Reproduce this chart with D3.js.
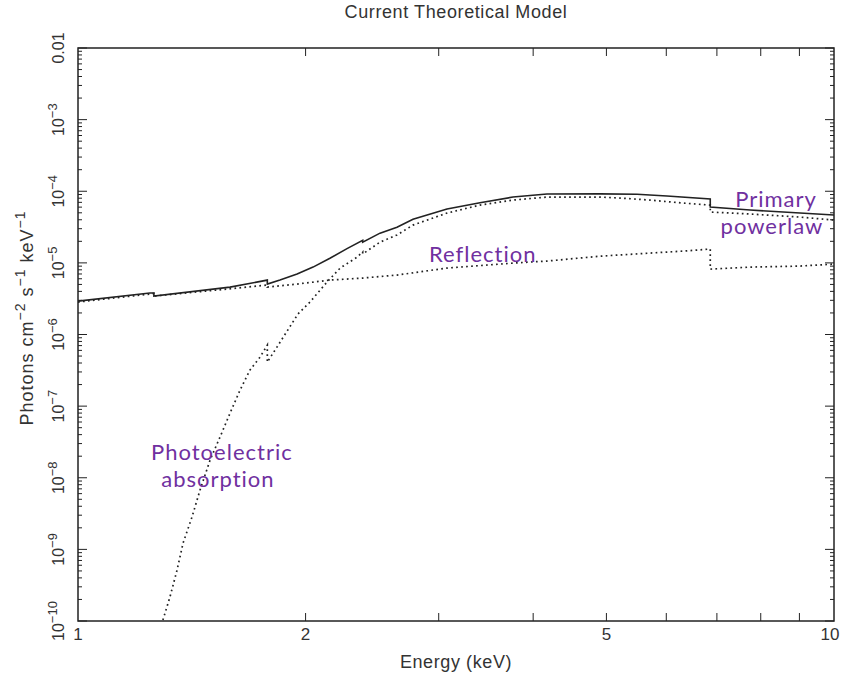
<!DOCTYPE html>
<html>
<head>
<meta charset="utf-8">
<script src="https://cdn.jsdelivr.net/npm/d3@7"></script>
<style>
  body { margin: 0; background: #fff; }
  .pg-text { font-family: "Liberation Sans", "DejaVu Sans", sans-serif; fill: #333; }
  .note { font-family: Lato, "Noto Sans", sans-serif; fill: #7030A0; letter-spacing: 1px; }
</style>
</head>
<body>
<div id="chart"></div>
<script>
// DATA (keV and photons/cm2/s/keV)
// edges are given twice so the line drops vertically
const energyTotal = [1.00, 1.245, 1.26, 1.26, 1.589, 1.78, 1.78, 1.85, 1.949, 2.046, 2.154, 2.269, 2.38, 2.38, 2.509, 2.642, 2.774, 3.077, 3.402, 3.762, 4.172, 4.903, 5.489, 6.013, 6.86, 6.86, 7.743, 9.016, 10.0];
const fluxTotal = [2.92e-6, 3.79e-6, 3.80e-6, 3.44e-6, 4.59e-6, 5.75e-6, 5.06e-6, 5.75e-6, 6.98e-6, 8.73e-6, 1.16e-5, 1.58e-5, 2.06e-5, 1.95e-5, 2.6e-5, 3.14e-5, 4.07e-5, 5.64e-5, 6.9e-5, 8.30e-5, 9.14e-5, 9.2e-5, 9.1e-5, 8.57e-5, 7.78e-5, 6.01e-5, 5.46e-5, 4.96e-5, 4.66e-5];

const energyPrimary = [1.295, 1.323, 1.352, 1.377, 1.415, 1.450, 1.495, 1.541, 1.589, 1.638, 1.688, 1.741, 1.78, 1.78, 1.833, 1.954, 2.027, 2.135, 2.222, 2.339, 2.38, 2.38, 2.509, 2.642, 2.774, 3.077, 3.402, 3.762, 4.172, 4.903, 5.212, 5.710, 6.314, 6.86, 6.86, 7.743, 9.016, 10.0];
const fluxPrimary = [1.03e-10, 2.15e-10, 5.12e-10, 1.22e-9, 2.82e-9, 6.71e-9, 1.76e-8, 3.69e-8, 7.98e-8, 1.67e-7, 3.18e-7, 4.83e-7, 7.11e-7, 4.12e-7, 6.67e-7, 1.93e-6, 2.84e-6, 5.40e-6, 8.46e-6, 1.20e-5, 1.42e-5, 1.33e-5, 1.95e-5, 2.45e-5, 3.37e-5, 4.96e-5, 6.41e-5, 7.53e-5, 8.30e-5, 8.30e-5, 8.04e-5, 7.53e-5, 6.84e-5, 6.41e-5, 5.12e-5, 4.81e-5, 4.36e-5, 3.96e-5];

const energyRefl = [1.00, 1.245, 1.26, 1.26, 1.575, 1.78, 1.78, 1.949, 2.154, 2.382, 2.642, 3.077, 3.762, 4.172, 4.903, 5.710, 6.314, 6.86, 6.86, 7.743, 9.016, 10.0];
const fluxRefl = [2.84e-6, 3.67e-6, 3.75e-6, 3.44e-6, 4.31e-6, 4.90e-6, 4.59e-6, 5.06e-6, 5.75e-6, 6.14e-6, 6.76e-6, 8.46e-6, 9.93e-6, 1.06e-5, 1.24e-5, 1.37e-5, 1.46e-5, 1.56e-5, 8.19e-6, 8.73e-6, 9.02e-6, 9.62e-6];

// TICKS
const xTickValues = [1, 2, 5, 10];
const yTickValues = [1e-10, 1e-9, 1e-8, 1e-7, 1e-6, 1e-5, 1e-4, 1e-3, 1e-2];

// LABELS
const titleText = 'Current Theoretical Model';
const xTitle = 'Energy (keV)';
const notes = [
  { lines: ['Primary', 'powerlaw'], e: 8.38, f: 6.0e-5 },
  { lines: ['Reflection'], e: 3.43, f: 1.03e-5 },
  { lines: ['Photoelectric', 'absorption'], e: 1.55, f: 1.76e-8 }
];

// SIZE
const W = 846, H = 678;
const m = { top: 48, right: 12, bottom: 57, left: 78 };

const svg = d3.select('#chart').append('svg')
  .attr('width', W).attr('height', H);

const x = d3.scaleLog().domain([1, 10]).range([m.left, W - m.right]);
const y = d3.scaleLog().domain([1e-10, 1e-2]).range([H - m.bottom, m.top]);

// minor ticks 2..9 in each decade
let yMinor = [];
for (let d = -10; d < -2; d++) {
  for (let k = 2; k <= 9; k++) yMinor.push(k * Math.pow(10, d));
}
let xMinor = d3.range(2, 10);

const ticks = svg.append('g').attr('stroke', '#222').attr('stroke-width', 1);
const x0 = x.range()[0], x1 = x.range()[1];
const y0 = y.range()[0], y1 = y.range()[1];

// y ticks left and right
yTickValues.forEach(function(v) {
  ticks.append('line').attr('x1', x0).attr('x2', x0 + 9).attr('y1', y(v)).attr('y2', y(v));
  ticks.append('line').attr('x1', x1).attr('x2', x1 - 9).attr('y1', y(v)).attr('y2', y(v));
});
yMinor.forEach(function(v) {
  ticks.append('line').attr('x1', x0).attr('x2', x0 + 4).attr('y1', y(v)).attr('y2', y(v));
  ticks.append('line').attr('x1', x1).attr('x2', x1 - 4).attr('y1', y(v)).attr('y2', y(v));
});
// x ticks bottom and top
xMinor.forEach(function(v) {
  ticks.append('line').attr('x1', x(v)).attr('x2', x(v)).attr('y1', y0).attr('y2', y0 - 8);
  ticks.append('line').attr('x1', x(v)).attr('x2', x(v)).attr('y1', y1).attr('y2', y1 + 8);
});

// frame
svg.append('rect')
  .attr('x', x0).attr('y', y1)
  .attr('width', x1 - x0).attr('height', y0 - y1)
  .attr('fill', 'none').attr('stroke', '#222').attr('stroke-width', 1.5);

// CURVES
const clip = svg.append('clipPath').attr('id', 'plotClip')
  .append('rect').attr('x', x0).attr('y', y1).attr('width', x1 - x0).attr('height', y0 - y1);

const line = d3.line().x(d => x(d[0])).y(d => y(d[1]));
const curves = svg.append('g').attr('clip-path', 'url(#plotClip)');

function drawCurve(es, fs, dotted) {
  curves.append('path')
    .datum(es.map((e, i) => [e, fs[i]]))
    .attr('d', line)
    .attr('fill', 'none')
    .attr('stroke', '#222')
    .attr('stroke-width', dotted ? 1.7 : 1.6)
    .attr('stroke-dasharray', dotted ? '1.7,3.3' : null);
}
drawCurve(energyRefl, fluxRefl, true);
drawCurve(energyPrimary, fluxPrimary, true);
drawCurve(energyTotal, fluxTotal, false);

// TEXT
svg.append('text').attr('class', 'pg-text')
  .attr('x', (x0 + x1) / 2).attr('y', 18)
  .attr('text-anchor', 'middle').attr('font-size', 18)
  .attr('letter-spacing', 0.6)
  .text(titleText);

svg.selectAll('.xlab').data(xTickValues).enter().append('text')
  .attr('class', 'pg-text xlab')
  .attr('x', d => d == 10 ? x(d) - 4 : x(d))
  .attr('y', 640)
  .attr('text-anchor', 'middle').attr('font-size', 17)
  .text(d => d);

svg.append('text').attr('class', 'pg-text')
  .attr('x', (x0 + x1) / 2).attr('y', 668)
  .attr('text-anchor', 'middle').attr('font-size', 18)
  .attr('letter-spacing', 0.6)
  .text(xTitle);

// y tick labels, rotated
yTickValues.forEach(function(v) {
  const t = svg.append('text').attr('class', 'pg-text')
    .attr('font-size', 16).attr('text-anchor', 'middle')
    .attr('transform', 'translate(64,' + y(v) + ') rotate(-90)');
  if (v == 1e-2) {
    t.text('0.01');
  } else {
    t.append('tspan').text('10');
    t.append('tspan').attr('dy', -7).attr('font-size', 13).text('\u2212' + Math.round(-Math.log10(v)));
  }
});

// y title
const yt = svg.append('text').attr('class', 'pg-text')
  .attr('font-size', 18).attr('text-anchor', 'middle')
  .attr('letter-spacing', 1)
  .attr('transform', 'translate(33,318) rotate(-90)');
yt.append('tspan').text('Photons cm');
yt.append('tspan').attr('dy', -8).attr('font-size', 14).text('\u22122');
yt.append('tspan').attr('dy', 8).text('  s');
yt.append('tspan').attr('dy', -8).attr('font-size', 14).text('\u22121');
yt.append('tspan').attr('dy', 8).text('  keV');
yt.append('tspan').attr('dy', -8).attr('font-size', 14).text('\u22121');

// purple notes
notes.forEach(function(n) {
  const t = svg.append('text').attr('class', 'note')
    .attr('font-size', 22).attr('text-anchor', 'middle');
  n.lines.forEach(function(s, i) {
    t.append('tspan').attr('x', x(n.e) - (i ? 4 : 0)).attr('y', y(n.f) + i * 27).text(s);
  });
});
</script>
</body>
</html>
